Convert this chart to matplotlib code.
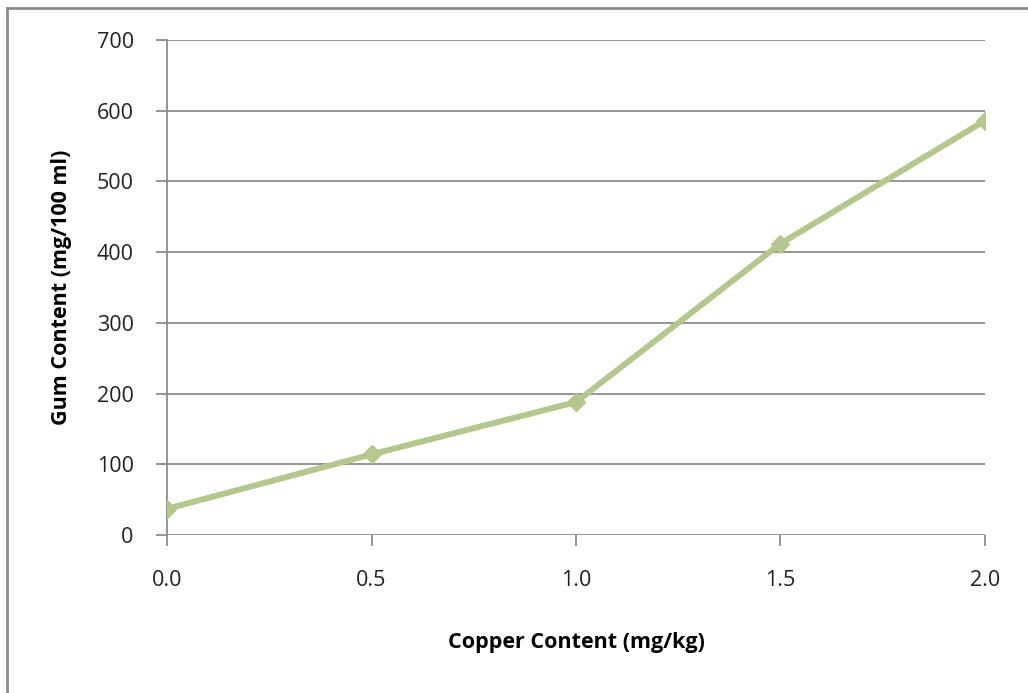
import matplotlib
matplotlib.use("Agg")
import matplotlib.pyplot as plt
from matplotlib.lines import Line2D

copper = [0.0, 0.5, 1.0, 1.5, 2.0]
gum = [37, 114, 188, 412, 586]
x_ticks = [0.0, 0.5, 1.0, 1.5, 2.0]
y_ticks = [0, 100, 200, 300, 400, 500, 600, 700]

plt.rcParams['font.family'] = ['Open Sans', 'DejaVu Sans']

fig = plt.figure(figsize=(10.28, 6.93), dpi=100)
ax = fig.add_axes([167 / 1028, 1 - 535 / 693, (985 - 167) / 1028, (535 - 40) / 693])

ax.plot(copper, gum, color="#b4c78e", linewidth=4.3, marker="D", markersize=9,
        markerfacecolor="#b4c78e", markeredgecolor="#b4c78e", solid_capstyle="round", zorder=3)

ax.set_xlim(0, 2.0)
ax.set_ylim(0, 700)
ax.set_xticks(x_ticks)
ax.set_xticklabels([f"{t:.1f}" for t in x_ticks])
ax.set_yticks(y_ticks)
ax.yaxis.grid(True, color="#8c8c8c", linewidth=1.3)
ax.set_axisbelow(True)

for s in ["top", "right", "bottom"]:
    ax.spines[s].set_visible(False)
ax.spines["left"].set_color("#8c8c8c")
ax.spines["left"].set_linewidth(1.3)

ax.tick_params(axis="both", colors="#8c8c8c", labelcolor="#222222", labelsize=15.5,
               length=8, width=1.3, direction="out")
ax.tick_params(axis="y", pad=16)
ax.tick_params(axis="x", pad=17)

ax.set_xlabel("Copper Content (mg/kg)", fontsize=15.5, fontweight="bold", labelpad=30)
ax.set_ylabel("Gum Content (mg/100 ml)", fontsize=15.5, fontweight="bold", labelpad=18)

# outer chart border (left and top only visible)
fig.add_artist(Line2D([7 / 1028, 7 / 1028], [0, 1 - 8 / 693], transform=fig.transFigure,
                      color="#8c8c8c", linewidth=2))
fig.add_artist(Line2D([7 / 1028, 1], [1 - 8 / 693, 1 - 8 / 693], transform=fig.transFigure,
                      color="#8c8c8c", linewidth=2))

fig.savefig("out.png", dpi=100)
